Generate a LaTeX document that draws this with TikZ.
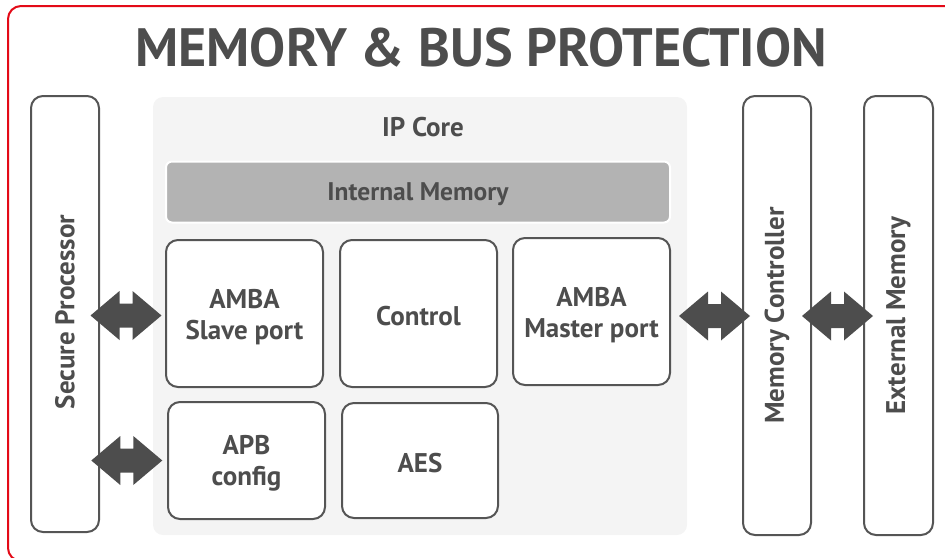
\documentclass[tikz,border=0pt]{standalone}
\usepackage{fontspec}
\setmainfont{PT Sans}
\usetikzlibrary{calc}
\definecolor{txt}{HTML}{4D4D4D}
\definecolor{edge}{HTML}{555555}
\definecolor{redline}{HTML}{E30A17}
\definecolor{corebg}{HTML}{F4F4F4}
\definecolor{memfill}{HTML}{B3B3B3}
\definecolor{arrowc}{HTML}{4D4D4D}
\newcommand{\dblarrow}[1]{%
  \fill[arrowc] ($(#1)+(-35.5,0)$) -- ++(29,-24.5) -- ++(0,12.5) -- ++(13,0) -- ++(0,-12.5)
    -- ++(29,24.5) -- ++(-29,24.5) -- ++(0,-12.5) -- ++(-13,0) -- ++(0,12.5) -- cycle;}
\begin{document}
\begin{tikzpicture}[x=1pt,y=-1pt,
  lbl/.style={text=txt, font=\fontsize{27}{31}\selectfont\bfseries, align=center},
  box/.style={draw=edge, line width=2pt, fill=white, rounded corners=12pt, inner sep=0pt},
  tallbox/.style={box, minimum width=68pt}]
\useasboundingbox (0,0) rectangle (945,557);
\draw[redline, line width=2pt, rounded corners=13pt] (8,6) rectangle (975,561);
\node[text=txt, font=\fontsize{54}{60}\selectfont\bfseries] (title) at (481,48) {MEMORY \& BUS PROTECTION};
% IP core background
\node[fill=corebg, draw=none, rounded corners=10pt, minimum width=534pt, minimum height=438pt, inner sep=0pt] (core) at (420,316) {};
\node[lbl] (corelbl) at (423,127) {IP Core};
\node[fill=memfill, draw=white, line width=2pt, rounded corners=6pt, minimum width=504pt, minimum height=61pt, inner sep=0pt] (imem) at (418,192) {};
\node[text=txt, font=\fontsize{25.5}{30}\selectfont\bfseries] (imemlbl) at ($(imem.center)+(0,2.5)$) {Internal Memory};
% side boxes
\node[tallbox, minimum height=436pt] (sp) at (65,314) {};
\node[lbl, rotate=90] (splbl) at ($(sp.center)+(0,-2)$) {Secure Processor};
\node[tallbox, minimum height=439pt] (mc) at (777,315.5) {};
\node[lbl, rotate=90] (mclbl) at (mc.center) {Memory Controller};
\node[tallbox, minimum width=69pt, minimum height=439pt] (em) at (898.5,315.5) {};
\node[lbl, rotate=90] (emlbl) at (em.center) {External Memory};
% inner blocks
\node[box, minimum width=157pt, minimum height=147pt] (slave) at (244.5,313.5) {};
\node[lbl] (slavelbl) at ($(slave.center)+(0,3.5)$) {AMBA\\Slave port};
\node[box, minimum width=157pt, minimum height=147pt] (ctrl) at (418.5,313.5) {};
\node[lbl] (ctrllbl) at ($(ctrl.center)+(0,3)$) {Control};
\node[box, minimum width=157pt, minimum height=147pt] (master) at (591.5,311.5) {};
\node[lbl] (masterlbl) at ($(master.center)+(0,3.5)$) {AMBA\\Master port};
\node[box, minimum width=157pt, minimum height=117pt] (apb) at (246.5,460.5) {};
\node[lbl] (apblbl) at ($(apb.center)+(0,3)$) {APB\\config};
\node[box, minimum width=156pt, minimum height=115pt] (aes) at (420,460.5) {};
\node[lbl] (aeslbl) at ($(aes.center)+(0,3)$) {AES};
% double arrows
\coordinate (a1) at ($(sp.east|-master.center)!0.4!(slave.west|-master.center)+(0,4)$);
\coordinate (a2) at ($(sp.east|-apb.west)!0.4!(apb.west)$);
\coordinate (a3) at ($(master.east)!0.5!(mc.west|-master.east)+(8,4.5)$);
\coordinate (a4) at ($(mc.east|-a3)!0.5!(em.west|-a3)$);
\dblarrow{a1}
\dblarrow{a2}
\dblarrow{a3}
\dblarrow{a4}
\end{tikzpicture}
\end{document}
